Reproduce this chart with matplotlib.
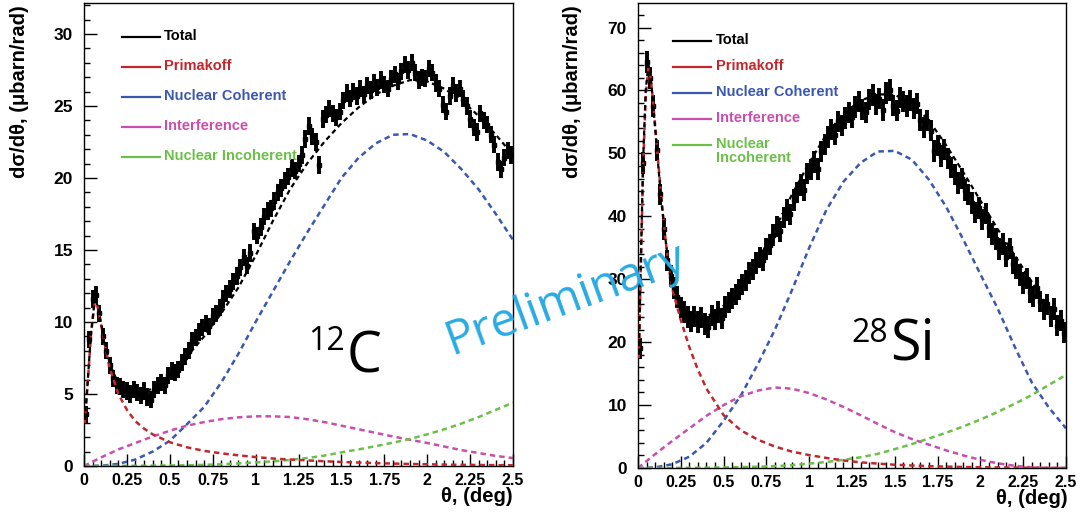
import numpy as np
import matplotlib
matplotlib.use('Agg')
import matplotlib.pyplot as plt
from matplotlib.ticker import MultipleLocator, FuncFormatter

plt.rcParams['font.family'] = ['Liberation Sans', 'DejaVu Sans']
plt.rcParams['font.weight'] = 'bold'

# ---------------- 12C panel ----------------
c_data = [3.6, 8.8, 11.6, 11.9, 10.6, 9.0, 8.0, 7.0, 6.1, 5.6,
          5.5, 5.3, 5.2, 5.0, 5.3, 5.1, 4.9, 5.2, 4.8, 4.6,
          5.3, 5.6, 5.8, 5.6, 6.3, 6.6, 6.5, 6.7, 7.2, 7.6,
          8.0, 8.7, 8.9, 9.3, 9.6, 9.9, 9.7, 10.4, 10.6, 11.0,
          11.6, 12.0, 12.3, 12.8, 13.2, 13.8, 14.5, 13.9, 14.8, 16.3,
          16.0, 16.6, 17.3, 17.7, 17.9, 18.4, 19.0, 19.3, 19.8, 20.1,
          20.7, 20.5, 21.0, 21.6, 22.7, 23.6, 22.9, 22.5, 20.9, 24.1,
          24.4, 24.8, 24.5, 24.2, 24.6, 25.4, 25.9, 25.5, 26.0, 25.7,
          26.2, 25.8, 26.4, 26.1, 26.6, 26.3, 26.8, 26.5, 26.2, 26.9,
          27.2, 26.7, 27.4, 27.9, 27.5, 28.0, 27.3, 26.8, 27.0, 26.9,
          27.6, 27.3, 26.6, 26.2, 25.1, 24.6, 25.7, 26.4, 25.9, 26.2,
          25.5, 25.0, 24.1, 23.5, 23.2, 24.5, 24.0, 23.7, 23.0, 22.3,
          21.1, 20.6, 21.4, 21.9, 21.6]
c_err = 0.6

c_fit_theta = [0.005, 0.02, 0.04, 0.06, 0.07, 0.08, 0.10, 0.12, 0.15, 0.20,
               0.25, 0.30, 0.35, 0.40, 0.50, 0.60, 0.70, 0.80, 0.90, 1.00,
               1.10, 1.20, 1.30, 1.40, 1.50, 1.60, 1.70, 1.80, 1.90, 2.00,
               2.10, 2.20, 2.30, 2.40, 2.50]
c_total = [3.2, 5.6, 9.1, 11.3, 11.4, 11.1, 9.9, 8.7, 7.1, 5.7,
           5.2, 5.0, 5.1, 5.4, 6.4, 7.6, 9.0, 10.6, 12.4, 14.6,
           17.0, 19.2, 21.0, 22.5, 23.8, 24.9, 25.8, 26.4, 26.8, 26.7,
           26.2, 25.4, 24.3, 23.0, 21.6]
c_prim = [3.0, 5.5, 9.0, 11.2, 11.3, 11.0, 9.8, 8.5, 6.8, 5.0,
          3.9, 3.1, 2.6, 2.2, 1.65, 1.3, 1.05, 0.88, 0.74, 0.62,
          0.52, 0.45, 0.39, 0.33, 0.28, 0.24, 0.20, 0.17, 0.14, 0.12,
          0.10, 0.08, 0.07, 0.06, 0.05]

c_grid = [0.0, 0.1, 0.2, 0.3, 0.4, 0.5, 0.6, 0.7, 0.8, 0.9, 1.0, 1.1, 1.2,
          1.3, 1.4, 1.5, 1.6, 1.7, 1.8, 1.9, 2.0, 2.1, 2.2, 2.3, 2.4, 2.5]
c_coh = [0.0, 0.02, 0.15, 0.45, 1.0, 1.75, 2.9, 4.1, 5.8, 7.8, 10.0, 12.1, 14.2,
         16.2, 18.1, 20.0, 21.4, 22.4, 23.0, 23.05, 22.6, 21.8, 20.6, 19.2, 17.5, 15.7]
c_int = [0.0, 0.6, 1.15, 1.6, 2.05, 2.45, 2.8, 3.05, 3.25, 3.38, 3.45, 3.45, 3.4,
         3.25, 3.05, 2.8, 2.55, 2.3, 2.05, 1.82, 1.6, 1.35, 1.1, 0.9, 0.7, 0.55]
c_inc = [0.0, 0.005, 0.01, 0.02, 0.03, 0.04, 0.05, 0.08, 0.12, 0.18, 0.25, 0.32, 0.42,
         0.55, 0.72, 0.95, 1.15, 1.38, 1.62, 1.88, 2.2, 2.55, 2.95, 3.4, 3.9, 4.4]

# ---------------- 28Si panel ----------------
s_data = [19.0, 48.5, 64.5, 62.0, 57.5, 50.5, 43.5, 38.0, 33.0, 30.5,
          28.6, 27.2, 25.5, 24.8, 24.0, 23.3, 24.1, 23.2, 23.9, 22.9,
          22.4, 24.2, 23.6, 24.8, 23.8, 25.6, 26.3, 26.9, 27.6, 28.4,
          29.2, 29.8, 31.0, 31.5, 32.6, 33.5, 33.0, 34.8, 35.5, 37.0,
          38.4, 37.6, 39.8, 41.0, 40.3, 42.6, 43.8, 45.0, 44.2, 46.8,
          47.4, 48.6, 47.5, 50.3, 51.4, 52.6, 53.8, 53.0, 55.1, 54.4,
          55.6, 56.5, 55.8, 57.4, 58.2, 57.0, 56.5, 58.6, 59.3, 57.8,
          58.7, 56.9, 59.6, 60.1, 57.6, 56.8, 58.9, 58.2, 57.5, 58.4,
          57.1, 57.9, 55.3, 54.1, 55.2, 53.6, 50.4, 51.3, 49.6, 50.6,
          49.2, 47.8, 46.6, 45.3, 46.0, 44.2, 43.5, 42.1, 40.6, 41.3,
          39.5, 40.4, 38.3, 37.2, 36.4, 34.8, 35.6, 33.6, 34.9, 32.5,
          31.8, 30.7, 29.4, 30.1, 28.0, 27.3, 28.6, 26.5, 25.2, 26.0,
          24.1, 25.3, 22.6, 23.4, 21.5]
s_err = 1.7

s_fit_theta = [0.005, 0.015, 0.03, 0.045, 0.06, 0.07, 0.08, 0.10, 0.12, 0.14,
               0.16, 0.18, 0.20, 0.25, 0.30, 0.35, 0.40, 0.50, 0.60, 0.70,
               0.80, 0.90, 1.00, 1.10, 1.20, 1.30, 1.40, 1.50, 1.60, 1.70,
               1.80, 1.90, 2.00, 2.10, 2.20, 2.30, 2.40, 2.50]
s_total = [18.0, 31.0, 49.0, 60.0, 64.0, 63.0, 60.5, 54.0, 47.5, 41.5,
           36.5, 32.0, 29.0, 26.0, 24.5, 23.8, 24.0, 25.8, 29.0, 33.0,
           38.0, 43.5, 48.5, 53.0, 56.3, 58.4, 59.4, 59.3, 58.0, 55.2,
           51.3, 47.0, 42.5, 38.0, 33.8, 29.6, 25.4, 21.5]
s_prim = [17.5, 30.0, 48.0, 59.0, 63.5, 62.8, 60.5, 54.5, 48.0, 42.0,
          36.5, 32.0, 28.5, 23.5, 19.2, 15.6, 12.6, 8.4, 6.0, 4.5,
          3.4, 2.6, 2.05, 1.6, 1.2, 0.9, 0.7, 0.52, 0.4, 0.3,
          0.22, 0.16, 0.12, 0.09, 0.06, 0.04, 0.03, 0.02]

s_grid = c_grid
s_coh = [0.0, 0.1, 0.6, 1.8, 4.0, 7.5, 11.5, 16.5, 22.0, 28.3, 35.0, 41.0, 45.5,
         48.5, 50.3, 50.4, 49.0, 45.8, 41.5, 36.3, 30.8, 25.4, 19.3, 13.6, 9.6, 6.3]
s_int = [0.0, 2.2, 4.3, 6.3, 8.3, 10.0, 11.4, 12.3, 12.8, 12.6, 11.9, 10.9, 9.7,
         8.4, 7.0, 5.7, 4.6, 3.7, 2.8, 2.0, 1.3, 0.75, 0.35, 0.1, 0.02, 0.0]
s_inc = [0.0, 0.01, 0.02, 0.04, 0.06, 0.09, 0.14, 0.2, 0.3, 0.45, 0.7, 0.95, 1.3,
         1.7, 2.25, 3.0, 3.8, 4.7, 5.6, 6.6, 7.7, 8.9, 10.2, 11.6, 13.2, 14.8]

leg_labels = ['Total', 'Primakoff', 'Nuclear Coherent', 'Interference', 'Nuclear Incoherent']
leg_labels_si = ['Total', 'Primakoff', 'Nuclear Coherent', 'Interference', 'Nuclear\nIncoherent']

col_total = 'black'
col_prim = '#c1272d'
col_coh = '#3b58b0'
col_int = '#c94fac'
col_inc = '#6cc04a'
colors = [col_total, col_prim, col_coh, col_int, col_inc]

W, H = 1083, 517
fig = plt.figure(figsize=(W / 100, H / 100), dpi=100)
ax1 = fig.add_axes([84 / W, 1 - 466 / H, 429 / W, 463 / H])
ax2 = fig.add_axes([638 / W, 1 - 468 / H, 428 / W, 465 / H])

dash = (0, (2.2, 1.6))


def panel(ax, data, err, fit_theta, total, prim, grid, coh, intf, inc,
          ymax, ymaj, ymin, labels, leg_y0, leg_dy, leg_x):
    theta = np.arange(len(data)) * 0.02 + 0.01
    ax.errorbar(theta, data, yerr=err, fmt='s', color='black', ms=2.6,
                elinewidth=2.8, capsize=0, zorder=3)
    ax.plot(grid, coh, color=col_coh, lw=1.8, ls=dash, zorder=2)
    ax.plot(grid, intf, color=col_int, lw=1.8, ls=dash, zorder=2)
    ax.plot(grid, inc, color=col_inc, lw=1.8, ls=dash, zorder=2)
    ax.plot(fit_theta, prim, color=col_prim, lw=1.8, ls=dash, zorder=4)
    ax.plot(fit_theta, total, color='black', lw=1.6, ls=dash, zorder=4)

    ax.set_xlim(0, 2.5)
    ax.set_ylim(0, ymax)
    ax.xaxis.set_major_locator(MultipleLocator(0.25))
    ax.xaxis.set_minor_locator(MultipleLocator(0.05))
    ax.yaxis.set_major_locator(MultipleLocator(ymaj))
    ax.yaxis.set_minor_locator(MultipleLocator(ymin))
    ax.xaxis.set_major_formatter(FuncFormatter(lambda v, p: '%g' % v))
    ax.yaxis.set_major_formatter(FuncFormatter(lambda v, p: '%g' % v))
    ax.tick_params(which='both', direction='in', top=False, right=False,
                   width=1)
    ax.tick_params(axis='y', labelsize=12.5, pad=8)
    ax.tick_params(axis='x', labelsize=11.5, pad=5)
    ax.tick_params(which='major', length=9)
    ax.tick_params(which='minor', length=4.5)
    for sp in ax.spines.values():
        sp.set_linewidth(1)

    # legend
    for i, (lab, c) in enumerate(zip(labels, colors)):
        y = leg_y0 - i * leg_dy
        ax.plot([leg_x[0], leg_x[1]], [y, y], color=c, lw=1.6,
                transform=ax.transAxes, clip_on=False)
        ax.text(leg_x[2], y + 0.017, lab, color=c, fontsize=10.5,
                ha='left', va='top', transform=ax.transAxes, linespacing=1.0)


panel(ax1, c_data, c_err, c_fit_theta, c_total, c_prim, c_grid, c_coh, c_int, c_inc,
      32.15, 5, 1, leg_labels, 0.9266, 0.0648, (0.0886, 0.177, 0.186))
panel(ax2, s_data, s_err, s_fit_theta, s_total, s_prim, s_grid, s_coh, s_int, s_inc,
      73.9, 10, 2, leg_labels_si, 0.918, 0.0559, (0.0818, 0.1706, 0.182))

# nucleus labels
ax1.text(1.52, 8.06, '12', fontsize=23, family='Open Sans', weight='normal',
         ha='right', va='baseline')
ax1.text(1.53, 6.5, 'C', fontsize=40, family='Open Sans', weight='normal',
         ha='left', va='baseline')
ax2.text(1.46, 20.0, '28', fontsize=23, family='Open Sans', weight='normal',
         ha='right', va='baseline')
ax2.text(1.47, 17.2, 'Si', fontsize=40, family='Open Sans', weight='normal',
         ha='left', va='baseline')

# axis titles
fig.text(20 / W, 1 - 5 / H, 'dσ/dθ, (μbarn/rad)', rotation=90, ha='center',
         va='top', fontsize=14.5)
fig.text(572 / W, 1 - 5 / H, 'dσ/dθ, (μbarn/rad)', rotation=90, ha='center',
         va='top', fontsize=14.5)
fig.text(513 / W, 1 - 497 / H, 'θ, (deg)', ha='right', va='center', fontsize=14.5)
fig.text(1068 / W, 1 - 499 / H, 'θ, (deg)', ha='right', va='center', fontsize=14.5)

fig.text(566 / W, 1 - 300 / H, 'Preliminary', rotation=20, rotation_mode='anchor',
         color='#29abe2', fontsize=34, family='Open Sans', weight='normal',
         ha='center', va='center')

fig.savefig('out.png', dpi=100)
